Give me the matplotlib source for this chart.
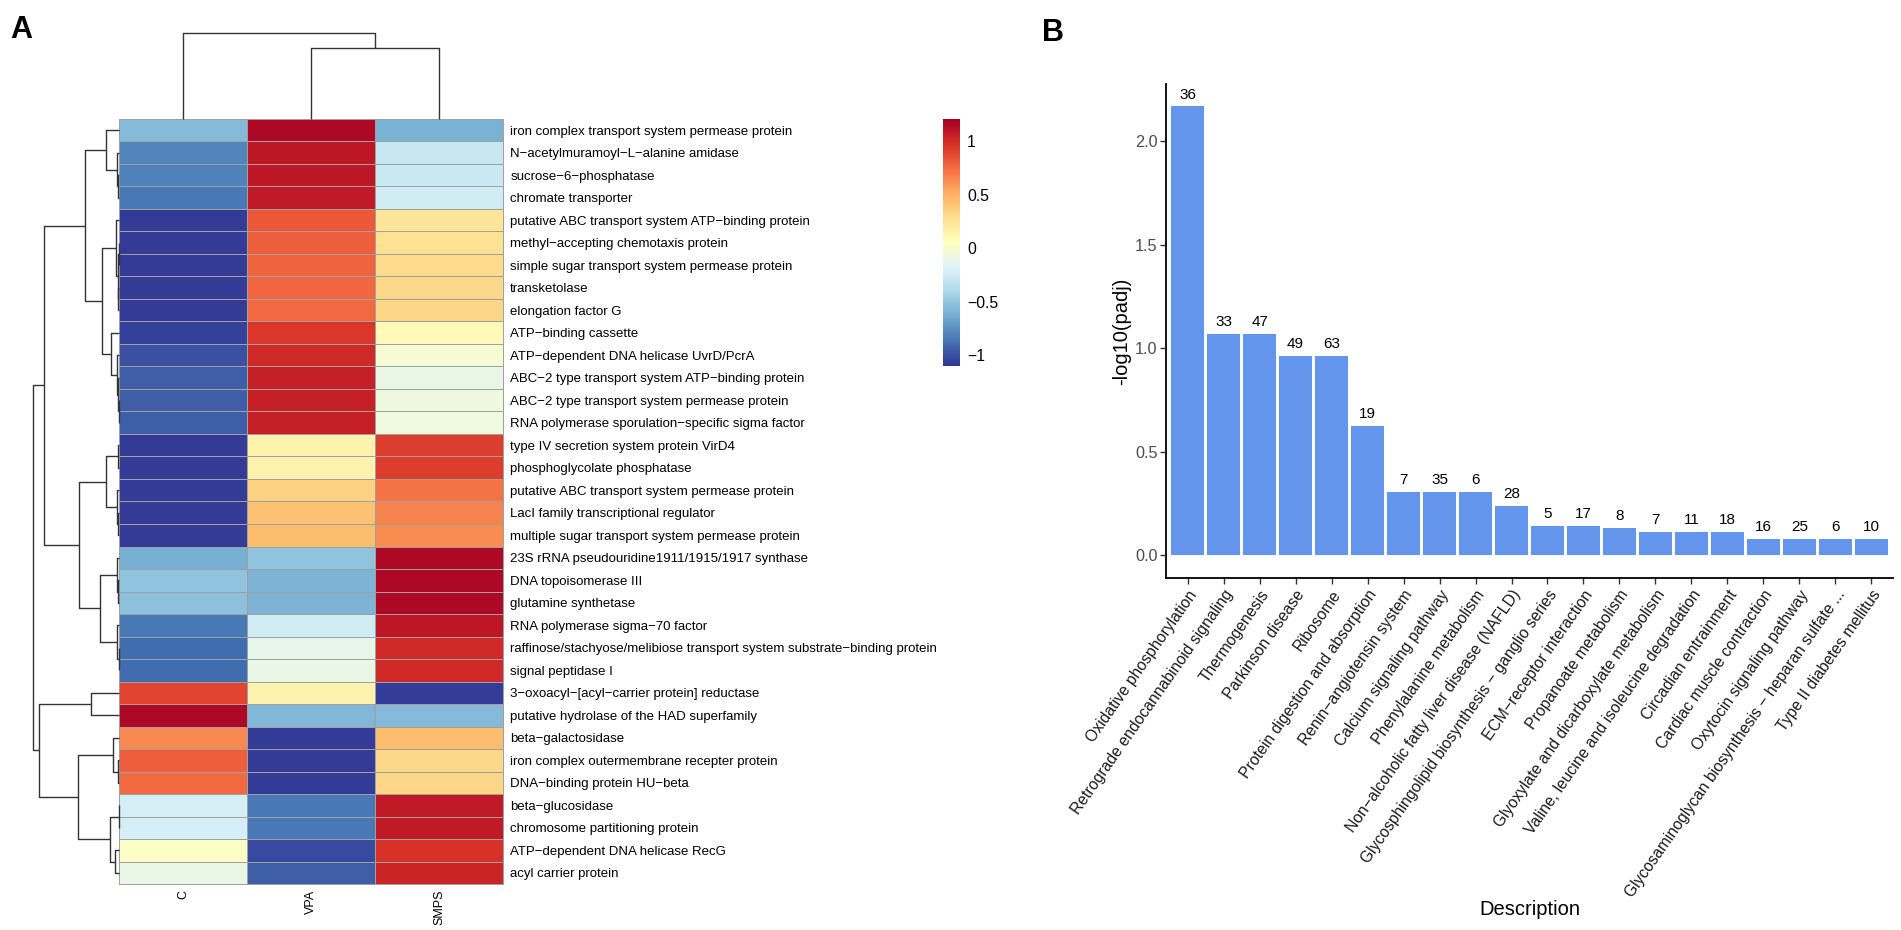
import numpy as np
import matplotlib
matplotlib.use('Agg')
import matplotlib.pyplot as plt
from matplotlib import colors, cm

plt.rcParams['font.family'] = ['Liberation Sans', 'DejaVu Sans']

W, H = 1901, 930

# panel A data
genes = ["iron complex transport system permease protein",
         "N\u2212acetylmuramoyl\u2212L\u2212alanine amidase",
         "sucrose\u22126\u2212phosphatase",
         "chromate transporter",
         "putative ABC transport system ATP\u2212binding protein",
         "methyl\u2212accepting chemotaxis protein",
         "simple sugar transport system permease protein",
         "transketolase",
         "elongation factor G",
         "ATP\u2212binding cassette",
         "ATP\u2212dependent DNA helicase UvrD/PcrA",
         "ABC\u22122 type transport system ATP\u2212binding protein",
         "ABC\u22122 type transport system permease protein",
         "RNA polymerase sporulation\u2212specific sigma factor",
         "type IV secretion system protein VirD4",
         "phosphoglycolate phosphatase",
         "putative ABC transport system permease protein",
         "LacI family transcriptional regulator",
         "multiple sugar transport system permease protein",
         "23S rRNA pseudouridine1911/1915/1917 synthase",
         "DNA topoisomerase III",
         "glutamine synthetase",
         "RNA polymerase sigma\u221270 factor",
         "raffinose/stachyose/melibiose transport system substrate\u2212binding protein",
         "signal peptidase I",
         "3\u2212oxoacyl\u2212[acyl\u2212carrier protein] reductase",
         "putative hydrolase of the HAD superfamily",
         "beta\u2212galactosidase",
         "iron complex outermembrane recepter protein",
         "DNA\u2212binding protein HU\u2212beta",
         "beta\u2212glucosidase",
         "chromosome partitioning protein",
         "ATP\u2212dependent DNA helicase RecG",
         "acyl carrier protein"]

samples = ["C", "VPA", "SMPS"]

zscores = np.array([
    [-0.56, 1.17, -0.61],
    [-0.80, 1.10, -0.28],
    [-0.82, 1.10, -0.27],
    [-0.85, 1.08, -0.25],
    [-1.08, 0.83, 0.25],
    [-1.08, 0.80, 0.28],
    [-1.08, 0.78, 0.30],
    [-1.08, 0.77, 0.32],
    [-1.08, 0.76, 0.33],
    [-1.06, 0.95, 0.10],
    [-1.00, 1.02, -0.02],
    [-0.95, 1.05, -0.10],
    [-0.95, 1.05, -0.08],
    [-0.95, 1.05, -0.07],
    [-1.08, 0.15, 0.93],
    [-1.08, 0.15, 0.93],
    [-1.08, 0.35, 0.73],
    [-1.08, 0.43, 0.66],
    [-1.08, 0.45, 0.64],
    [-0.62, -0.52, 1.17],
    [-0.52, -0.60, 1.17],
    [-0.54, -0.60, 1.17],
    [-0.85, -0.25, 1.10],
    [-0.90, -0.12, 1.02],
    [-0.90, -0.10, 1.02],
    [0.90, 0.15, -1.07],
    [1.17, -0.58, -0.56],
    [0.65, -1.08, 0.45],
    [0.80, -1.08, 0.32],
    [0.76, -1.08, 0.33],
    [-0.22, -0.85, 1.08],
    [-0.22, -0.85, 1.08],
    [0.02, -1.02, 0.97],
    [-0.10, -0.95, 1.03]])

# linkage: (left, right, height), leaves are display positions, merge k gets id n+k
row_links = [(2, 3, 1.0), (1, 34, 2.0), (0, 35, 13.3),
             (5, 6, 0.5), (7, 8, 1.0), (37, 38, 1.7), (4, 39, 3.3),
             (12, 13, 0.7), (11, 41, 1.3), (10, 42, 2.3), (9, 43, 8.0),
             (40, 44, 17.3), (36, 45, 34.0),
             (14, 15, 1.0), (17, 18, 1.0), (16, 48, 2.7), (47, 49, 13.3),
             (20, 21, 1.0), (19, 51, 2.0), (23, 24, 0.7), (22, 53, 2.3),
             (52, 54, 19.0), (50, 55, 40.0), (46, 56, 75.0),
             (25, 26, 28.0), (28, 29, 1.0), (27, 59, 6.3),
             (30, 31, 0.7), (32, 33, 4.7), (61, 62, 9.7), (60, 63, 40.7),
             (58, 64, 80.0), (57, 65, 86.0)]
col_links = [(1, 2, 71.0), (0, 3, 86.0)]

# panel B data
pathways = ["Oxidative phosphorylation",
            "Retrograde endocannabinoid signaling",
            "Thermogenesis",
            "Parkinson disease",
            "Ribosome",
            "Protein digestion and absorption",
            "Renin\u2212angiotensin system",
            "Calcium signaling pathway",
            "Phenylalanine metabolism",
            "Non\u2212alcoholic fatty liver disease (NAFLD)",
            "Glycosphingolipid biosynthesis \u2212 ganglio series",
            "ECM\u2212receptor interaction",
            "Propanoate metabolism",
            "Glyoxylate and dicarboxylate metabolism",
            "Valine, leucine and isoleucine degradation",
            "Circadian entrainment",
            "Cardiac muscle contraction",
            "Oxytocin signaling pathway",
            "Glycosaminoglycan biosynthesis \u2212 heparan sulfate ...",
            "Type II diabetes mellitus"]
neglog_padj = [2.169, 1.068, 1.068, 0.964, 0.964, 0.624, 0.307, 0.307, 0.307, 0.239,
               0.140, 0.140, 0.134, 0.114, 0.114, 0.114, 0.080, 0.080, 0.080, 0.080]
gene_counts = [36, 33, 47, 49, 63, 19, 7, 35, 6, 28, 5, 17, 8, 7, 11, 18, 16, 25, 6, 10]


def px_axes(fig, x0, y0, x1, y1):
    return fig.add_axes([x0 / W, 1 - y1 / H, (x1 - x0) / W, (y1 - y0) / H])


def draw_dendrogram(ax, links, n, side):
    pos = {i: i + 0.5 for i in range(n)}
    hgt = {i: 0.0 for i in range(n)}
    for k, (a, b, h) in enumerate(links):
        xs = [hgt[a], h, h, hgt[b]]
        ys = [pos[a], pos[a], pos[b], pos[b]]
        if side == 'left':
            ax.plot(xs, ys, color='#333333', lw=1.0, clip_on=False, solid_capstyle='butt')
        else:
            ax.plot(ys, xs, color='#333333', lw=1.0, clip_on=False, solid_capstyle='butt')
        pos[n + k] = (pos[a] + pos[b]) / 2
        hgt[n + k] = h
    ax.axis('off')


fig = plt.figure(figsize=(W / 100, H / 100), dpi=100)

cmap = plt.get_cmap('RdYlBu_r')
norm = colors.Normalize(vmin=-1.10, vmax=1.21)
n_rows = len(genes)

# heatmap
hx0, hy0, hx1, hy1 = 119.3, 119, 503.3, 884
ax_h = px_axes(fig, hx0, hy0, hx1, hy1)
mesh = ax_h.pcolormesh(zscores, cmap=cmap, norm=norm, edgecolors='#a0a0a0', linewidth=0.6)
mesh.set_clip_on(False)
ax_h.set_xlim(0, 3)
ax_h.set_ylim(n_rows, 0)
ax_h.yaxis.tick_right()
ax_h.set_yticks(np.arange(n_rows) + 0.5)
ax_h.set_yticklabels(genes, fontsize=9.5)
ax_h.set_xticks(np.arange(3) + 0.5)
ax_h.set_xticklabels(samples, fontsize=9, rotation=90, va='top')
ax_h.tick_params(length=0, pad=4)
ax_h.tick_params(axis='y', pad=5)
for s in ax_h.spines.values():
    s.set_visible(False)

# dendrograms
ax_rd = px_axes(fig, 33, hy0, hx0, hy1)
draw_dendrogram(ax_rd, row_links, n_rows, 'left')
ax_rd.set_xlim(86, 0)
ax_rd.set_ylim(n_rows, 0)

ax_cd = px_axes(fig, hx0, 33, hx1, hy0)
draw_dendrogram(ax_cd, col_links, 3, 'top')
ax_cd.set_ylim(0, 86)
ax_cd.set_xlim(0, 3)

# colour legend
cax = px_axes(fig, 943.3, 119, 960, 365.7)
cb = fig.colorbar(cm.ScalarMappable(norm=norm, cmap=cmap), cax=cax)
cb.outline.set_visible(False)
cb.set_ticks([-1, -0.5, 0, 0.5, 1])
cb.set_ticklabels(['\u22121', '\u22120.5', '0', '0.5', '1'])
cax.tick_params(length=0, labelsize=11.3, pad=5)

# bar chart
ax_b = px_axes(fig, 1166, 84, 1893, 577.7)
x = np.arange(len(pathways))
ax_b.bar(x, neglog_padj, width=0.9, color='#6495ED')
for xi, v, c in zip(x, neglog_padj, gene_counts):
    ax_b.annotate(str(c), (xi, v), xytext=(0, 3.5), textcoords='offset points',
                  ha='center', va='bottom', fontsize=11, color='black')
ax_b.set_xlim(-0.6, len(pathways) - 0.4)
ax_b.set_ylim(-0.1085, 2.2775)
ax_b.set_yticks([0, 0.5, 1.0, 1.5, 2.0])
ax_b.set_yticklabels(['0.0', '0.5', '1.0', '1.5', '2.0'])
ax_b.set_xticks(x)
ax_b.set_xticklabels(pathways, rotation=55, ha='right', va='top', rotation_mode='anchor')
ax_b.tick_params(axis='y', labelsize=11.7, labelcolor='#4D4D4D', length=4, width=1, color='#333333', pad=2)
ax_b.tick_params(axis='x', labelsize=11.3, labelcolor='#1a1a1a', length=4, width=1, color='#333333', pad=3)
ax_b.spines['top'].set_visible(False)
ax_b.spines['right'].set_visible(False)
ax_b.spines['left'].set_linewidth(1.3)
ax_b.spines['bottom'].set_linewidth(1.3)

fig.text(1121.7 / W, 1 - 331 / H, '-log10(padj)', rotation=90, ha='center', va='center', fontsize=14.5)
fig.text(1529.5 / W, 1 - 909 / H, 'Description', ha='center', va='center', fontsize=14.5)

fig.text(10 / W, 1 - 15 / H, 'A', fontsize=22, fontweight='bold', ha='left', va='top')
fig.text(1042 / W, 1 - 18 / H, 'B', fontsize=22, fontweight='bold', ha='left', va='top')

fig.savefig('out.png', dpi=100)
